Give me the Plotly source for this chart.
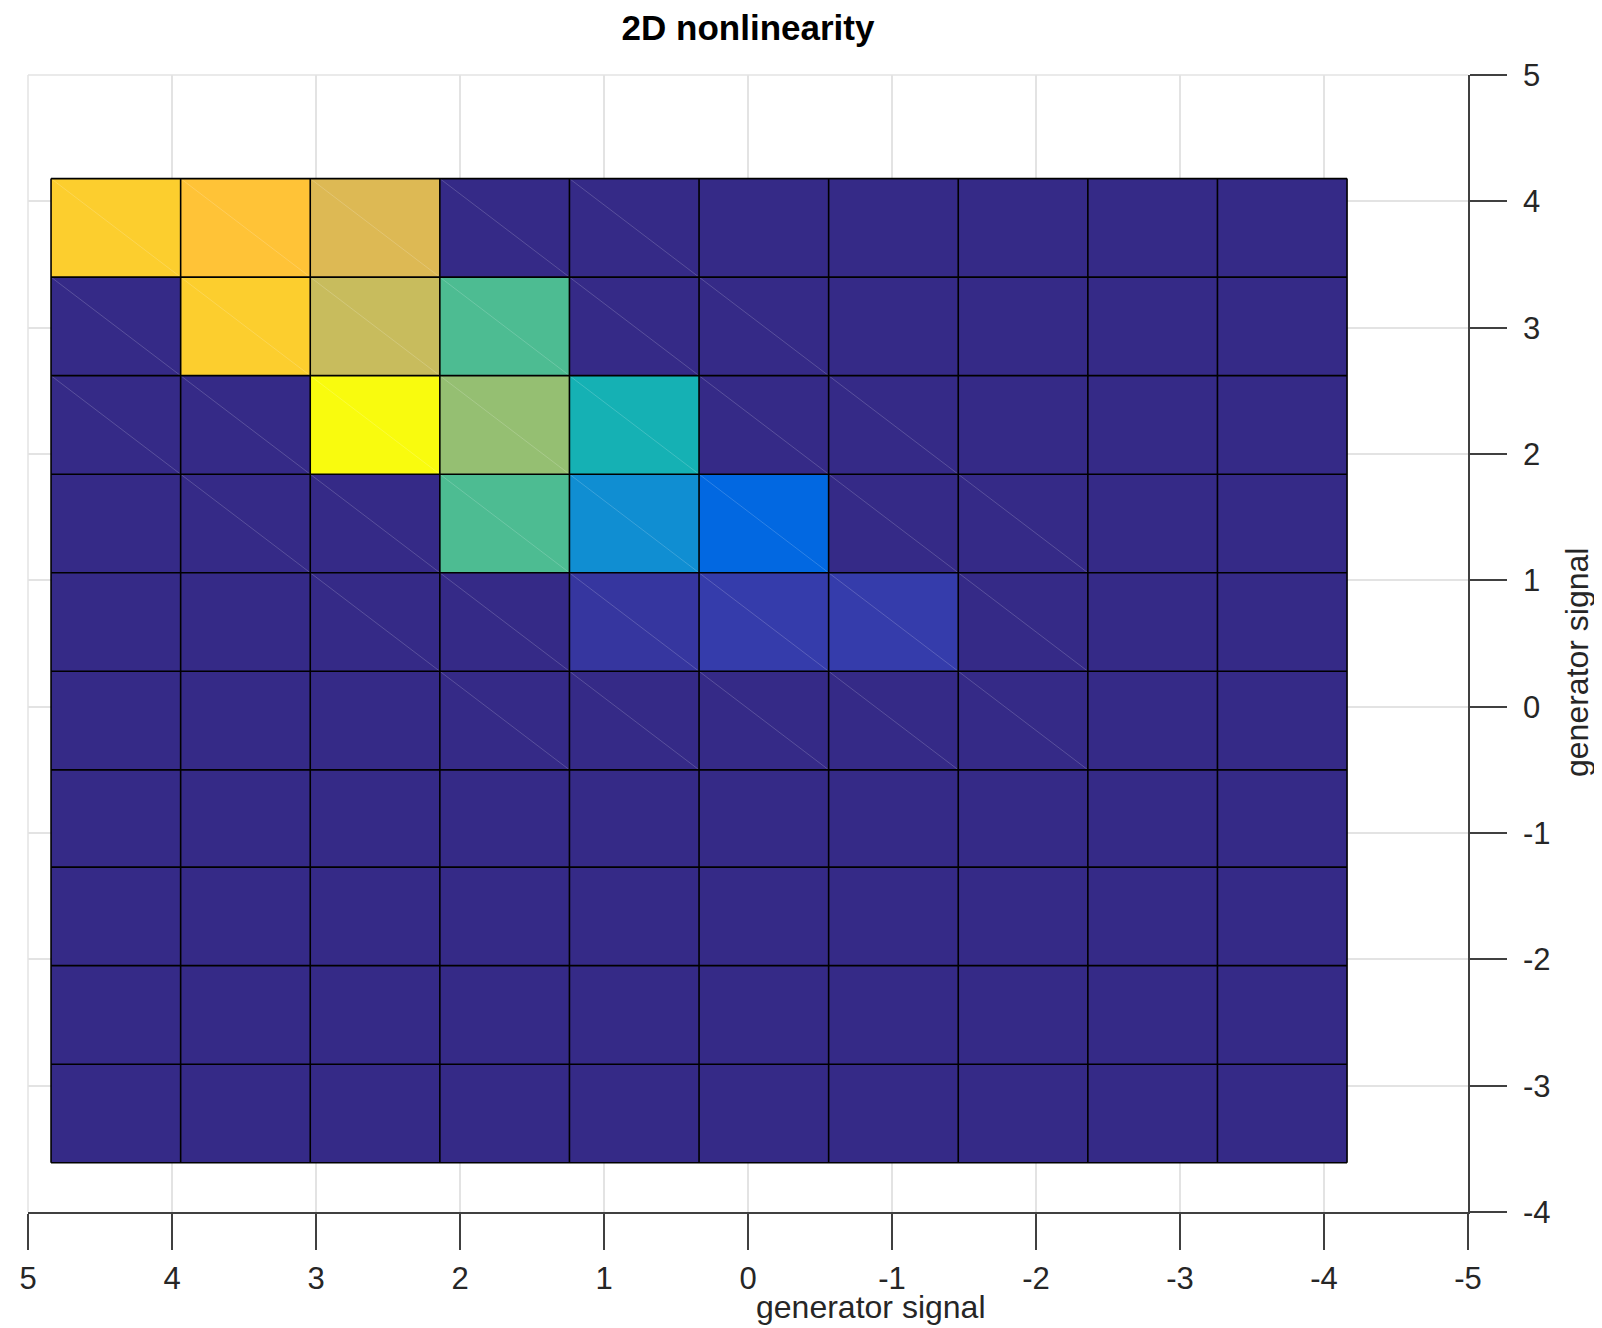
import plotly.graph_objects as go

# ---------------- data ----------------
# cell edges (projected data coordinates), x runs left->right (reversed axis), y top->bottom
x_edges = [4.84, 3.94, 3.04, 2.14, 1.24, 0.34, -0.56, -1.46, -2.36, -3.26, -4.16]
y_edges = [4.18, 3.40, 2.62, 1.84, 1.06, 0.28, -0.50, -1.27, -2.05, -2.83, -3.61]

# normalised response per cell, rows listed from top row to bottom row
row1 = [0.889, 0.857, 0.77, 0, 0, 0, 0, 0, 0, 0]
row2 = [0, 0.889, 0.73, 0.54, 0, 0, 0, 0, 0, 0]
row3 = [0, 0, 1.0, 0.64, 0.444, 0, 0, 0, 0, 0]
row4 = [0, 0, 0, 0.54, 0.286, 0.143, 0, 0, 0, 0]
row5 = [0, 0, 0, 0, 0.03, 0.045, 0.045, 0, 0, 0]
row6 = [0] * 10
row7 = [0] * 10
row8 = [0] * 10
row9 = [0] * 10
row10 = [0] * 10
z_rows = [row1, row2, row3, row4, row5, row6, row7, row8, row9, row10]

x_ticks = [5, 4, 3, 2, 1, 0, -1, -2, -3, -4, -5]
y_ticks = [-4, -3, -2, -1, 0, 1, 2, 3, 4, 5]

title = "2D nonlinearity"
x_title = "generator signal"
y_title = "generator signal"

# MATLAB parula colormap (64 entries)
parula = [
    [0.2081, 0.1663, 0.5292], [0.2116, 0.1898, 0.5777], [0.2123, 0.2138, 0.6270], [0.2081, 0.2386, 0.6771],
    [0.1959, 0.2645, 0.7279], [0.1707, 0.2919, 0.7792], [0.1253, 0.3242, 0.8303], [0.0591, 0.3598, 0.8683],
    [0.0117, 0.3875, 0.8820], [0.0060, 0.4086, 0.8828], [0.0165, 0.4266, 0.8786], [0.0329, 0.4430, 0.8720],
    [0.0498, 0.4586, 0.8641], [0.0629, 0.4737, 0.8554], [0.0723, 0.4887, 0.8467], [0.0779, 0.5040, 0.8384],
    [0.0793, 0.5200, 0.8312], [0.0749, 0.5375, 0.8263], [0.0641, 0.5570, 0.8240], [0.0488, 0.5772, 0.8228],
    [0.0343, 0.5966, 0.8199], [0.0265, 0.6137, 0.8135], [0.0239, 0.6287, 0.8038], [0.0231, 0.6418, 0.7913],
    [0.0228, 0.6535, 0.7768], [0.0267, 0.6642, 0.7607], [0.0384, 0.6743, 0.7436], [0.0590, 0.6838, 0.7254],
    [0.0843, 0.6928, 0.7062], [0.1133, 0.7015, 0.6859], [0.1453, 0.7098, 0.6646], [0.1801, 0.7177, 0.6424],
    [0.2178, 0.7250, 0.6193], [0.2586, 0.7317, 0.5954], [0.3022, 0.7376, 0.5712], [0.3482, 0.7424, 0.5473],
    [0.3953, 0.7459, 0.5244], [0.4420, 0.7481, 0.5033], [0.4871, 0.7491, 0.4840], [0.5300, 0.7491, 0.4661],
    [0.5709, 0.7485, 0.4494], [0.6099, 0.7473, 0.4337], [0.6473, 0.7456, 0.4188], [0.6834, 0.7435, 0.4044],
    [0.7184, 0.7411, 0.3905], [0.7525, 0.7384, 0.3768], [0.7858, 0.7356, 0.3633], [0.8185, 0.7327, 0.3498],
    [0.8507, 0.7299, 0.3360], [0.8824, 0.7274, 0.3217], [0.9139, 0.7258, 0.3063], [0.9450, 0.7261, 0.2886],
    [0.9739, 0.7314, 0.2666], [0.9938, 0.7455, 0.2403], [0.9990, 0.7653, 0.2164], [0.9955, 0.7861, 0.1967],
    [0.9880, 0.8066, 0.1794], [0.9789, 0.8271, 0.1633], [0.9697, 0.8481, 0.1475], [0.9626, 0.8705, 0.1309],
    [0.9589, 0.8949, 0.1132], [0.9598, 0.9218, 0.0948], [0.9661, 0.9514, 0.0755], [0.9763, 0.9831, 0.0538],
]
n = len(parula)
colorscale = [[i / (n - 1), "rgb(%d,%d,%d)" % tuple(round(c * 255) for c in col)] for i, col in enumerate(parula)]

# ---------------- figure ----------------
fig = go.Figure()

fig.add_trace(go.Heatmap(
    x=x_edges, y=y_edges[::-1], z=z_rows[::-1],
    colorscale=colorscale, zmin=0, zmax=1, showscale=False, hoverinfo="skip",
))

# faint triangulation diagonals, visible where the surface is not flat
nr, nc = len(z_rows), len(z_rows[0])
dx, dy = [], []
for j in range(nr):
    for i in range(nc):
        bumpy = any(
            z_rows[jj][ii] != 0
            for jj in range(max(0, j - 1), min(nr, j + 2))
            for ii in range(max(0, i - 1), min(nc, i + 2))
        )
        if bumpy:
            dx += [x_edges[i], x_edges[i + 1], None]
            dy += [y_edges[j], y_edges[j + 1], None]
fig.add_trace(go.Scatter(x=dx, y=dy, mode="lines", line=dict(color="rgba(255,255,255,0.18)", width=1),
                         hoverinfo="skip", showlegend=False))

# black cell edges
ex, ey = [], []
for xe in x_edges:
    ex += [xe, xe, None]
    ey += [y_edges[0], y_edges[-1], None]
for ye in y_edges:
    ex += [x_edges[0], x_edges[-1], None]
    ey += [ye, ye, None]
fig.add_trace(go.Scatter(x=ex, y=ey, mode="lines", line=dict(color="black", width=1.6),
                         hoverinfo="skip", showlegend=False))

font_family = "Liberation Sans, Arial, sans-serif"
axis_color = "#404040"
grid_color = "#E3E3E3"

# the page body adds an 8px offset, so the figure is 8px smaller on each side
W, H = 1594, 1320
fig.update_layout(
    width=W, height=H,
    margin=dict(l=20, r=134, t=67, b=116),
    paper_bgcolor="white", plot_bgcolor="white",
    showlegend=False,
    font=dict(family=font_family, size=31, color="#262626"),
    title=dict(text="<b>" + title + "</b>", x=740 / W, xanchor="center", y=1 - 20 / H, yanchor="middle",
               font=dict(size=35, color="black", family=font_family)),
    xaxis=dict(
        range=[5, -5], tickvals=x_ticks, ticktext=[str(v) for v in x_ticks],
        showgrid=True, gridcolor=grid_color, gridwidth=1.5,
        showline=True, linecolor=axis_color, linewidth=1.5,
        ticks="outside", ticklen=36, tickwidth=1.5, tickcolor=axis_color,
        zeroline=False, ticklabelstandoff=2, automargin=False,
        tickfont=dict(size=31, color="#262626"),
    ),
    yaxis=dict(
        range=[-4, 5], tickvals=y_ticks, ticktext=[str(v) for v in y_ticks],
        side="right",
        showgrid=True, gridcolor=grid_color, gridwidth=1.5,
        showline=True, linecolor=axis_color, linewidth=1.5,
        ticks="outside", ticklen=37, tickwidth=1.5, tickcolor=axis_color,
        zeroline=False, ticklabelstandoff=10, automargin=False,
        tickfont=dict(size=31, color="#262626"),
    ),
    shapes=[
        dict(type="line", xref="paper", yref="paper", x0=0, x1=1, y0=1, y1=1,
             line=dict(color=grid_color, width=1.5), layer="below"),
        dict(type="line", xref="paper", yref="paper", x0=0, x1=0, y0=0, y1=1,
             line=dict(color=grid_color, width=1.5), layer="below"),
    ],
    annotations=[
        dict(text=x_title, xref="paper", yref="paper", x=(870 - 28) / 1440, y=-(1307 - 1212) / 1137,
             xanchor="center", yanchor="middle", showarrow=False, font=dict(size=32, color="#262626")),
        dict(text=y_title, xref="paper", yref="paper", x=(1577 - 28) / 1440, y=(1212 - 663) / 1137,
             xanchor="center", yanchor="middle", showarrow=False, textangle=-90,
             font=dict(size=32, color="#262626")),
    ],
)

fig.write_html("out.html")
